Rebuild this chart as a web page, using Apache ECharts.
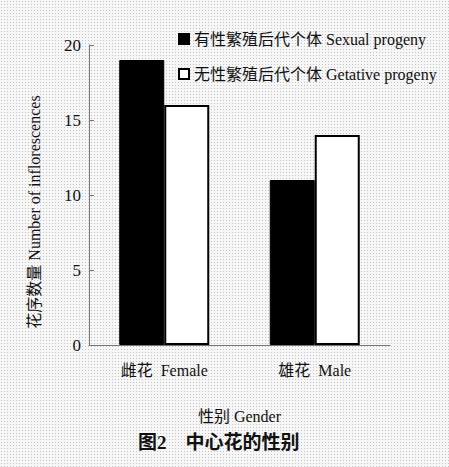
<!DOCTYPE html>
<html>
<head>
<meta charset="utf-8">
<script src="https://cdn.jsdelivr.net/npm/echarts@6/dist/echarts.min.js"></script>
<style>
  html, body { margin: 0; padding: 0; }
  #chart {
    width: 449px; height: 467px;
    background-color: #f6f6f6;
    background-image: radial-gradient(#c4c4c4 0.7px, transparent 0.8px);
    background-size: 3px 3px;
  }
</style>
</head>
<body>
<div id="chart"></div>
<script>
// categories and values
const categories = ["雌花  Female", "雄花  Male"];
const sexual = [19, 11];
const vegetative = [16, 14];
const yTicks = [0, 5, 10, 15, 20];

const serif = "'Liberation Serif', 'Noto Sans CJK SC', serif";

const chart = echarts.init(document.getElementById("chart"), null, { renderer: "svg" });

chart.setOption({
  backgroundColor: "transparent",
  textStyle: { fontFamily: serif, color: "#111" },
  animation: false,
  title: {
    text: "图2    中心花的性别",
    left: 133,
    top: 428,
    textStyle: { fontFamily: serif, fontSize: 19, fontWeight: "bold", color: "#111" }
  },
  legend: {
    orient: "vertical",
    left: 173,
    top: 26,
    itemGap: 19,
    itemWidth: 10,
    itemHeight: 10,
    textStyle: { fontFamily: serif, fontSize: 16, color: "#111" },
    data: [
      { name: "有性繁殖后代个体 Sexual progeny", icon: "rect" },
      { name: "无性繁殖后代个体 Getative progeny", icon: "rect" }
    ]
  },
  grid: { left: 89, right: 59, top: 45, bottom: 122 },
  xAxis: {
    type: "category",
    data: categories,
    name: "性别 Gender",
    nameLocation: "middle",
    nameGap: 63,
    nameTextStyle: { fontFamily: serif, fontSize: 16, color: "#111" },
    axisLine: { lineStyle: { color: "#777", width: 1 } },
    axisTick: { inside: true, length: 5, lineStyle: { color: "#777" } },
    axisLabel: { fontFamily: serif, fontSize: 16, color: "#111", margin: 17 }
  },
  yAxis: {
    type: "value",
    min: yTicks[0],
    max: yTicks[yTicks.length - 1],
    interval: 5,
    name: "花序数量 Number of inflorescences",
    nameLocation: "middle",
    nameGap: 47,
    nameRotate: 90,
    nameTextStyle: { fontFamily: serif, fontSize: 16, color: "#111", padding: [0, 34, 0, 0] },
    axisLine: { show: true, lineStyle: { color: "#777", width: 1 } },
    axisTick: { show: true, inside: true, length: 5, lineStyle: { color: "#777" } },
    splitLine: { show: false },
    axisLabel: { fontFamily: serif, fontSize: 17, color: "#111", margin: 8 }
  },
  series: [
    {
      name: "有性繁殖后代个体 Sexual progeny",
      type: "bar",
      data: sexual,
      barWidth: 45,
      barGap: "0%",
      itemStyle: { color: "#000", borderColor: "#000", borderWidth: 1 }
    },
    {
      name: "无性繁殖后代个体 Getative progeny",
      type: "bar",
      data: vegetative,
      barWidth: 45,
      barGap: "0%",
      itemStyle: { color: "#fff", borderColor: "#000", borderWidth: 2 }
    }
  ]
});
</script>
</body>
</html>
